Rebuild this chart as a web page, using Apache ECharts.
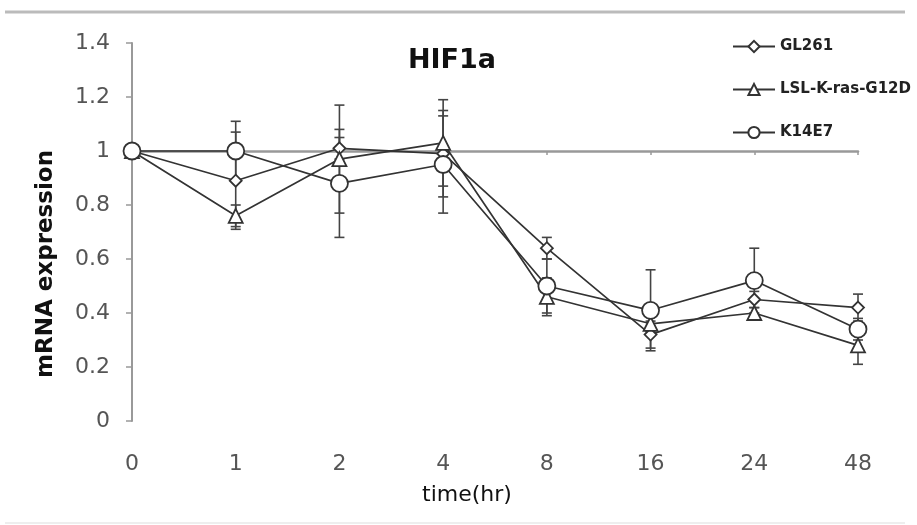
<!DOCTYPE html>
<html><head><meta charset="utf-8">
<script src="https://cdn.jsdelivr.net/npm/echarts@6/dist/echarts.min.js"></script>
<style>html,body{margin:0;padding:0;background:#fff}#c{width:917px;height:525px}</style>
</head><body><div id="c"></div>
<script>
const categories = ['0','1','2','4','8','16','24','48'];
const yTicks = [0,0.2,0.4,0.6,0.8,1,1.2,1.4];
const gl261 = [1.0,0.89,1.01,0.99,0.64,0.32,0.45,0.42];
const gl261Err = [0,0.18,0.04,0.16,0.04,0.05,0.03,0.05];
const lsl = [1.0,0.76,0.97,1.03,0.46,0.36,0.40,0.28];
const lslErr = [0,0.04,0.2,0.16,0.07,0.03,0.02,0.07];
const k14e7 = [1.0,1.0,0.88,0.95,0.50,0.41,0.52,0.34];
const k14e7Err = [0,0.11,0.2,0.18,0.10,0.15,0.12,0.04];

const INK = '#333';
const FONT = 'DejaVu Sans';
function errData(vals, errs){
  return vals.map((v,i)=>[i, v-errs[i], v+errs[i]]);
}
function errSeries(vals, errs){
  return {
    type:'custom', xAxisIndex:0, yAxisIndex:0, z:1, silent:true,
    data: errData(vals, errs),
    renderItem:function(params, api){
      if (api.value(2)-api.value(1) <= 0) return null;
      const lo = api.coord([api.value(0), api.value(1)]);
      const hi = api.coord([api.value(0), api.value(2)]);
      const w = 5;
      const st = {stroke:'#444', lineWidth:1.6};
      return {type:'group', children:[
        {type:'line', shape:{x1:hi[0],y1:hi[1],x2:lo[0],y2:lo[1]}, style:st},
        {type:'line', shape:{x1:hi[0]-w,y1:hi[1],x2:hi[0]+w,y2:hi[1]}, style:st},
        {type:'line', shape:{x1:lo[0]-w,y1:lo[1],x2:lo[0]+w,y2:lo[1]}, style:st}
      ]};
    }
  };
}
function lineSeries(name, vals, symbol, size){
  return {
    name:name, type:'line', data:vals, z:3,
    symbol:symbol, symbolSize:size, showAllSymbol:true,
    lineStyle:{color:INK, width:1.7},
    itemStyle:{color:'#fff', borderColor:INK, borderWidth:1.8},
    emphasis:{disabled:true}
  };
}
const chart = echarts.init(document.getElementById('c'));
chart.setOption({
  animation:false,
  backgroundColor:'#fff',
  title:{text:'HIF1a', left:447, top:42, textAlign:'center',
    textStyle:{fontFamily:FONT, fontSize:27, fontWeight:'bold', color:'#111'}},
  legend:{orient:'vertical', left:727, top:34, itemGap:28, itemWidth:42, itemHeight:14,
    textStyle:{fontFamily:FONT, fontSize:15, fontWeight:'bold', color:'#222'},
    data:['GL261','LSL-K-ras-G12D','K14E7']},
  grid:{left:132, right:59, top:43, bottom:104},
  xAxis:[{
    type:'category', data:categories, boundaryGap:false, position:'bottom',
    axisLine:{show:false}, axisTick:{show:false},
    axisLabel:{fontFamily:FONT, fontSize:22, color:'#555', margin:32}
  },{
    type:'category', data:categories, boundaryGap:false, position:'bottom', offset:-270,
    axisLine:{show:true, lineStyle:{color:'#999', width:2.5}},
    axisTick:{show:true, alignWithLabel:true, length:4, lineStyle:{color:'#999', width:1.5}},
    axisLabel:{show:false}
  }],
  yAxis:{
    type:'value', min:0, max:1.4, interval:0.2,
    axisLine:{show:true, lineStyle:{color:'#999', width:2}},
    axisTick:{show:true, length:6, lineStyle:{color:'#999', width:1.5}},
    splitLine:{show:false},
    axisLabel:{fontFamily:FONT, fontSize:22, color:'#555', margin:22,
      formatter:function(v){ const r=Math.round(v*10)/10; return yTicks.indexOf(r)>=0 ? String(r) : ''; }}
  },
  graphic:[
    {type:'line', shape:{x1:5,y1:12,x2:905,y2:12}, style:{stroke:'#bbb', lineWidth:3}},
    {type:'line', shape:{x1:5,y1:523,x2:905,y2:523}, style:{stroke:'#eee', lineWidth:2}},
    {type:'text', left:422, top:484, style:{text:'time(hr)', fontFamily:FONT, fontSize:22, fill:'#111'}},
    {type:'text', x:46, y:264, rotation:Math.PI/2,
      style:{text:'mRNA expression', fontFamily:FONT, fontSize:23, fontWeight:'bold', fill:'#111',
        align:'center', verticalAlign:'middle'}}
  ],
  series:[
    errSeries(gl261, gl261Err),
    errSeries(lsl, lslErr),
    errSeries(k14e7, k14e7Err),
    lineSeries('GL261', gl261, 'diamond', 12),
    lineSeries('LSL-K-ras-G12D', lsl, 'triangle', 14),
    lineSeries('K14E7', k14e7, 'circle', 17)
  ]
});
</script></body></html>
